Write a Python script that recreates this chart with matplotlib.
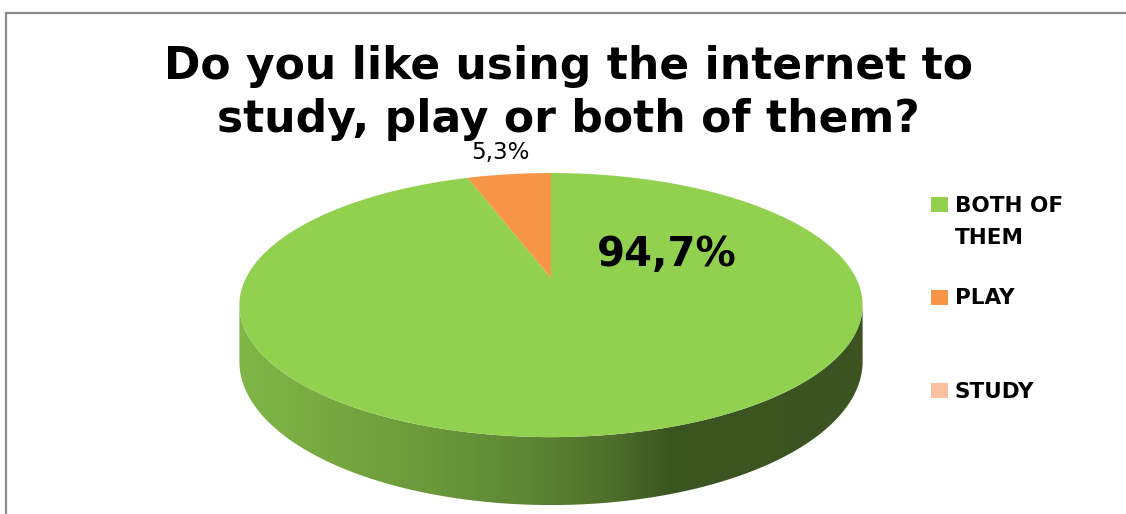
import numpy as np
import matplotlib
matplotlib.use('Agg')
import matplotlib.pyplot as plt
from matplotlib.patches import Polygon, Rectangle

# survey answers
labels = ['BOTH OF\nTHEM', 'PLAY', 'STUDY']
values = [94.7, 5.3, 0.0]
colors = ['#92d050', '#f79646', '#fac0a0']
title_lines = ['Do you like using the internet to', 'study, play or both of them?']

W, H = 1126, 514
fig = plt.figure(figsize=(W / 100, H / 100), dpi=100)
ax = fig.add_axes([0, 0, 1, 1])
ax.set_xlim(0, W)
ax.set_ylim(H, 0)
ax.axis('off')

# outer frame (only top and left edges fall inside the canvas)
ax.plot([6, 6, W], [H, 13, 13], color='#8c8c8c', lw=1.6, solid_capstyle='butt',
        solid_joinstyle='miter')

# tilted pie with a little perspective: back of the disc is drawn smaller
cx, cy = 551, 278
A, B, k = 305, 126.5, 0.205
depth = 54


def project(theta, r=1.0):
    # theta in degrees, clockwise from 12 o'clock
    t = np.radians(theta)
    u, v = r * np.sin(t), r * np.cos(t)
    s = 1.0 / (1.0 + k * v)
    return cx + A * u * s, cy - B * v * s


def rim(theta):
    t = np.radians(theta)
    s = 1.0 / (1.0 + k * np.cos(t))
    x, y = project(theta)
    return x, y + depth * s


total = sum(values)
bounds = np.concatenate([[0], np.cumsum(values)]) / total * 360

# side wall: visible only on the front half of the disc
vis_lo = np.degrees(np.arccos(-k))
vis_hi = 360 - vis_lo
x_left = cx - A / np.sqrt(1 - k ** 2)
x_right = cx + A / np.sqrt(1 - k ** 2)

# horizontal shading of the wall, light on the left, dark on the right
frac_pts = [0.0, 0.02, 0.31, 0.48, 0.60, 0.69, 1.0]
shade_pts = [0.88, 0.87, 0.73, 0.63, 0.53, 0.41, 0.40]
fr = np.linspace(0, 1, 400)
shade = np.interp(fr, frac_pts, shade_pts)

for i, (a, b) in enumerate(zip(bounds[:-1], bounds[1:])):
    lo, hi = max(a, vis_lo), min(b, vis_hi)
    if hi <= lo:
        continue
    th = np.linspace(lo, hi, 200)
    top = np.array([project(t) for t in th])
    bot = np.array([rim(t) for t in th])
    pts = np.vstack([top, bot[::-1]])
    poly = Polygon(pts, closed=True, facecolor='none', edgecolor='none')
    ax.add_patch(poly)
    base = np.array(matplotlib.colors.to_rgb(colors[i]))
    img = (shade[:, None] * base[None, :])[None, :, :]
    y0, y1 = pts[:, 1].min(), pts[:, 1].max()
    im = ax.imshow(img, extent=(x_left, x_right, y1, y0), aspect='auto',
                   interpolation='bilinear', zorder=1)
    im.set_clip_path(poly)

# top face
for i, (a, b) in enumerate(zip(bounds[:-1], bounds[1:])):
    if b - a <= 0:
        continue
    th = np.linspace(a, b, max(int(b - a) * 3, 20))
    pts = [(cx, cy)] + [project(t) for t in th]
    ax.add_patch(Polygon(pts, closed=True, facecolor=colors[i],
                         edgecolor='none', zorder=2))


def fmt(v):
    return f'{v:.1f}%'.replace('.', ',')


# data labels
lx, ly = project(64, 0.44)
ax.text(lx, ly, fmt(values[0]), ha='center', va='center', fontsize=29,
        fontweight='bold', color='black', zorder=3)
mid = (bounds[1] + bounds[2]) / 2
lx, ly = project(mid, 1.26)
ax.text(lx, ly, fmt(values[1]), ha='center', va='center', fontsize=16.6,
        color='black', zorder=3)

# title
ax.text(568, 79, title_lines[0], ha='center', va='baseline', fontsize=31.7,
        fontweight='bold', color='black', zorder=4)
ax.text(568, 132, title_lines[1], ha='center', va='baseline', fontsize=31.7,
        fontweight='bold', color='black', zorder=4)

# legend
leg_y = [204, 297, 390]
for lab, col, y in zip(labels, colors, leg_y):
    ax.add_patch(Rectangle((931, y - 7.5), 17, 15, facecolor=col,
                           edgecolor='none', zorder=3))
    for j, line in enumerate(lab.split('\n')):
        ax.text(955, y + 7.5 + j * 33, line, ha='left', va='baseline',
                fontsize=15.5, fontweight='bold', color='black', zorder=3)

fig.savefig('out.png', dpi=100)
